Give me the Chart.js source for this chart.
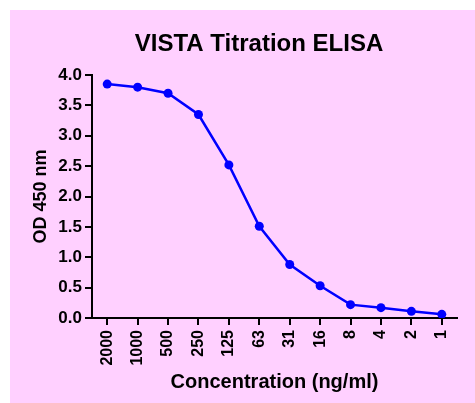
<!DOCTYPE html>
<html>
<head>
<meta charset="utf-8">
<script src="https://cdn.jsdelivr.net/npm/chart.js@4"></script>
<style>
  html, body { margin: 0; padding: 0; background: #ffffff; }
  canvas { display: block; }
</style>
</head>
<body>
<canvas id="c" width="475" height="403"></canvas>
<script>
const chartTitle = 'VISTA Titration ELISA';
const xAxisTitle = 'Concentration (ng/ml)';
const yAxisTitle = 'OD 450 nm';
const concentrations = ['2000', '1000', '500', '250', '125', '63', '31', '16', '8', '4', '2', '1'];
const od450 = [3.85, 3.80, 3.70, 3.35, 2.52, 1.51, 0.88, 0.53, 0.22, 0.17, 0.11, 0.06];
const yMin = 0, yMax = 4, yStep = 0.5;

const FONT = '"Liberation Sans", Arial, sans-serif';

const backgroundPlugin = {
  id: 'bg',
  beforeDraw(chart) {
    const ctx = chart.ctx;
    ctx.save();
    ctx.fillStyle = '#ffffff';
    ctx.fillRect(0, 0, chart.width, chart.height);
    ctx.fillStyle = 'rgb(255,208,255)';
    ctx.fillRect(10, 10, chart.width - 10, chart.height - 10);
    ctx.restore();
  }
};

const titlePlugin = {
  id: 'customTitle',
  afterDraw(chart) {
    const ctx = chart.ctx;
    ctx.save();
    ctx.fillStyle = '#000000';
    ctx.font = 'bold 24px ' + FONT;
    ctx.textAlign = 'center';
    ctx.textBaseline = 'middle';
    ctx.fillText(chartTitle, 259, 44);
    ctx.restore();
  }
};

new Chart(document.getElementById('c'), {
  type: 'line',
  data: {
    labels: concentrations,
    datasets: [{
      data: od450,
      borderColor: '#0000ff',
      backgroundColor: '#0000ff',
      borderWidth: 2.5,
      pointRadius: 4.5,
      pointBorderWidth: 0,
      pointBackgroundColor: '#0000ff',
      tension: 0,
      fill: false
    }]
  },
  options: {
    responsive: false,
    animation: false,
    devicePixelRatio: 1,
    layout: { padding: { top: 75, right: 18, bottom: 0, left: 0 } },
    plugins: {
      legend: { display: false },
      title: { display: false },
      tooltip: { enabled: false }
    },
    scales: {
      x: {
        type: 'category',
        offset: true,
        border: { display: true, color: '#000000', width: 2 },
        grid: { display: true, drawOnChartArea: false, drawTicks: true, tickLength: 7, color: '#000000', lineWidth: 2 },
        ticks: {
          color: '#000000',
          font: { family: FONT, size: 16, weight: 'bold' },
          minRotation: 90,
          maxRotation: 90,
          padding: 5,
          autoSkip: false
        },
        title: {
          display: true,
          text: xAxisTitle,
          color: '#000000',
          font: { family: FONT, size: 20, weight: 'bold' },
          padding: { top: 0, bottom: 9 }
        },
        afterFit(scale) { scale.height = 85; }
      },
      y: {
        min: yMin,
        max: yMax,
        border: { display: true, color: '#000000', width: 2 },
        grid: { display: true, drawOnChartArea: false, drawTicks: true, tickLength: 7, color: '#000000', lineWidth: 2 },
        ticks: {
          stepSize: yStep,
          color: '#000000',
          font: { family: FONT, size: 17, weight: 'bold' },
          padding: 3,
          callback: (v) => Number(v).toFixed(1)
        },
        title: {
          display: true,
          text: yAxisTitle,
          color: '#000000',
          font: { family: FONT, size: 18, weight: 'bold' },
          padding: { top: 30, bottom: 0 }
        },
        afterFit(scale) { scale.width = 92; }
      }
    }
  },
  plugins: [backgroundPlugin, titlePlugin]
});
</script>
</body>
</html>
